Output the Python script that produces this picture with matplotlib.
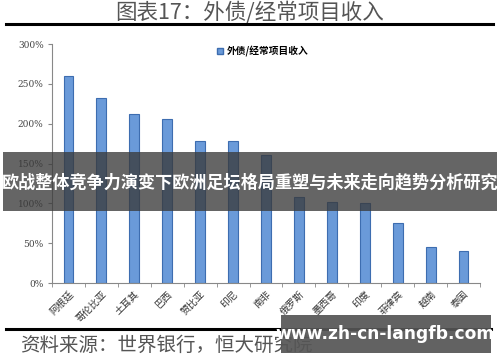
import matplotlib
matplotlib.use("Agg")
import matplotlib.pyplot as plt
from matplotlib.patches import Rectangle
from matplotlib.lines import Line2D
import numpy as np

plt.rcParams['font.family'] = ['Noto Sans CJK SC', 'DejaVu Sans']

categories = ['阿根廷', '哥伦比亚', '土耳其', '巴西', '赞比亚', '印尼', '南非',
              '俄罗斯', '墨西哥', '印度', '菲律宾', '越南', '泰国']
values = [260, 233, 212, 206, 179, 178, 161, 108, 102, 100, 75, 45, 40]
yticks = [0, 50, 100, 150, 200, 250, 300]
ytick_labels = ['0%', '50%', '100%', '150%', '200%', '250%', '300%']
series_name = '外债/经常项目收入'
title = '图表17：外债/经常项目收入'
source = '资料来源：世界银行，恒大研究院'
overlay = '欧战整体竞争力演变下欧洲足坛格局重塑与未来走向趋势分析研究'
watermark = 'www.zh-cn-langfb.com'

fig = plt.figure(figsize=(5, 3.62), dpi=100)
fig.patch.set_facecolor('white')
ax = fig.add_axes([0.104, 0.218, 0.856, 0.66])

x = np.arange(len(categories))
ax.bar(x, values, width=0.3, color='#6a9ad9', edgecolor='#3d6db0', linewidth=0.8, zorder=2)
ax.set_xlim(-0.5, len(categories) - 0.5)
ax.set_ylim(0, 300)
ax.set_yticks(yticks)
ax.set_yticklabels(ytick_labels, fontsize=6.5, color='#444444', family=['DejaVu Serif'])
ax.set_xticks(x)
ax.set_xticklabels(categories, rotation=45, ha='right', rotation_mode='anchor',
                   fontsize=7, color='#333333')
ax.set_xticks(np.arange(len(categories) + 1) - 0.5, minor=True)
ax.tick_params(axis='x', which='major', length=0, pad=4)
ax.tick_params(axis='x', which='minor', length=3, color='#888888', direction='out')
ax.tick_params(axis='y', length=3, color='#888888', direction='out', pad=3)
for s in ['top', 'right']:
    ax.spines[s].set_visible(False)
ax.spines['left'].set_color('#888888')
ax.spines['bottom'].set_color('#888888')

handle = Rectangle((0, 0), 1, 1, facecolor='#6a9ad9', edgecolor='#3d6db0')
ax.legend([handle], [series_name], loc='upper left', bbox_to_anchor=(0.365, 1.03),
          frameon=False, handlelength=0.6, handleheight=0.6, handletextpad=0.4,
          prop={'size': 7, 'weight': 'bold'})

# Title and rules
fig.text(0.5, 0.965, title, ha='center', va='center', fontsize=15.5, color='#555555')
fig.add_artist(Line2D([0.012, 0.986], [0.934, 0.934], color='black', linewidth=2.2))
fig.add_artist(Line2D([0.012, 0.982], [0.091, 0.091], color='black', linewidth=2.2))
fig.text(0.04, 0.045, source, ha='left', va='center', fontsize=14, color='#555555')

# Overlay band
fig.add_artist(Rectangle((0.006, 0.417), 0.988, 0.163, transform=fig.transFigure,
                         facecolor='#3a3a3a', alpha=0.78, edgecolor='none', zorder=5))
fig.text(0.5, 0.497, overlay, ha='center', va='center', fontsize=12.3, color='white',
         weight='bold', zorder=6)

# Watermark box
fig.add_artist(Rectangle((0.562, 0.025), 0.42, 0.105, transform=fig.transFigure,
                         facecolor='#555555', alpha=0.92, edgecolor='none', zorder=5))
fig.text(0.77, 0.077, watermark, ha='center', va='center', fontsize=12.3, color='white',
         weight='bold', family=['DejaVu Sans'], zorder=6)

fig.savefig('out.png', dpi=100)
